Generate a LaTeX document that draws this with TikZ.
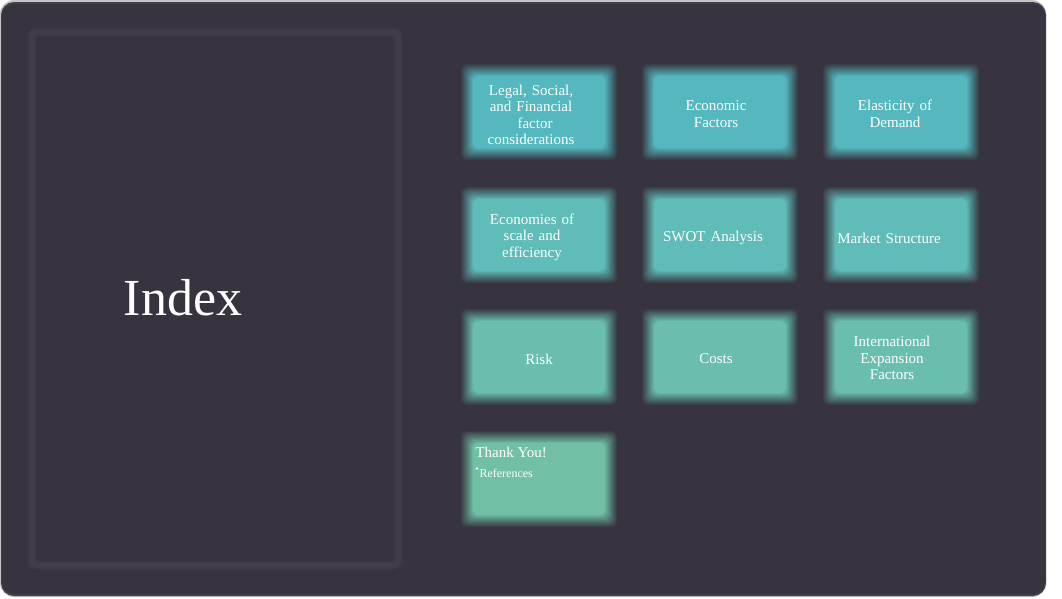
\documentclass[tikz,border=0pt]{standalone}
\usepackage{fontspec}
\setmainfont{Liberation Serif}
\begin{document}
\begin{tikzpicture}[x=1pt,y=-1pt,
  boxtext/.style={text=white,font=\fontsize{15}{16.5}\selectfont,align=center,text width=130pt},
  frame/.style={draw=#1,rounded corners=4pt}]
\definecolor{slidebg}{HTML}{37343F}
\definecolor{frameline}{HTML}{46424F}
\definecolor{rowa}{HTML}{55B8BF}
\definecolor{rowb}{HTML}{5FBCB8}
\definecolor{rowc}{HTML}{69BEAE}
\definecolor{rowd}{HTML}{71C0A5}
\useasboundingbox (0,0) rectangle (1062,598);
\fill[white] (0,0) rectangle (1062,598);
\fill[gray!45, rounded corners=14pt] (0,0) rectangle (1046,597);
\fill[slidebg!85!gray, rounded corners=13pt] (1,2) rectangle (1046,596);
\fill[slidebg, rounded corners=12pt] (2,4) rectangle (1045,594);
% left frame (soft)
\foreach \w in {9,7,5,3}{
  \draw[frame=frameline, line width=\w pt, opacity=0.3] (32,32) rectangle (398,565);}
% title
\node[text=white,font=\fontsize{52}{60}\selectfont] (idx) at (183,298) {Index};
% boxes with soft (blurred) edges: linear alpha ramp
\newcommand{\glowbox}[4]{%
  \foreach \g [count=\k] in {6,5,...,-6}{%
    \pgfmathsetmacro{\op}{1/(14-\k)}%
    \fill[#3, opacity=\op, rounded corners=6pt] (#1-72-\g,#2-42-\g) rectangle (#1+72+\g,#2+42+\g);}
  \node[boxtext] (#4) at (#1,#2) {};}
\glowbox{539}{112}{rowa}{b11}
\glowbox{720}{112}{rowa}{b12}
\glowbox{901}{112}{rowa}{b13}
\glowbox{539}{235}{rowb}{b21}
\glowbox{720}{235}{rowb}{b22}
\glowbox{901}{235}{rowb}{b23}
\glowbox{539}{357}{rowc}{b31}
\glowbox{720}{357}{rowc}{b32}
\glowbox{901}{357}{rowc}{b33}
\glowbox{539}{479}{rowd}{b41}
\node[boxtext] (t11) at (531,115) {Legal, Social,\\ and Financial\\ \hspace{8pt}factor\\ considerations};
\node[boxtext] (t12) at (716,114) {Economic\\ Factors};
\node[boxtext] (t13) at (895,114) {Elasticity of\\ Demand};
\node[boxtext] (t21) at (532,237) {Economies of\\ scale and\\ efficiency};
\node[boxtext] (t22) at (713,238) {SWOT Analysis};
\node[boxtext] (t23) at (889,238) {Market Structure};
\node[boxtext] (t31) at (539,359) {Risk};
\node[boxtext] (t32) at (716,359) {Costs};
\node[boxtext] (t33) at (892,358) {International\\ Expansion\\ Factors};
\node[text=white,font=\fontsize{15}{16.5}\selectfont,anchor=west] (t41) at (472,452) {Thank You!};
\node[text=white,font=\fontsize{12}{14}\selectfont,anchor=west] (t42) at (476,473) {References};
\fill[white] (477,468.5) circle (1.3pt);
\end{tikzpicture}
\end{document}
